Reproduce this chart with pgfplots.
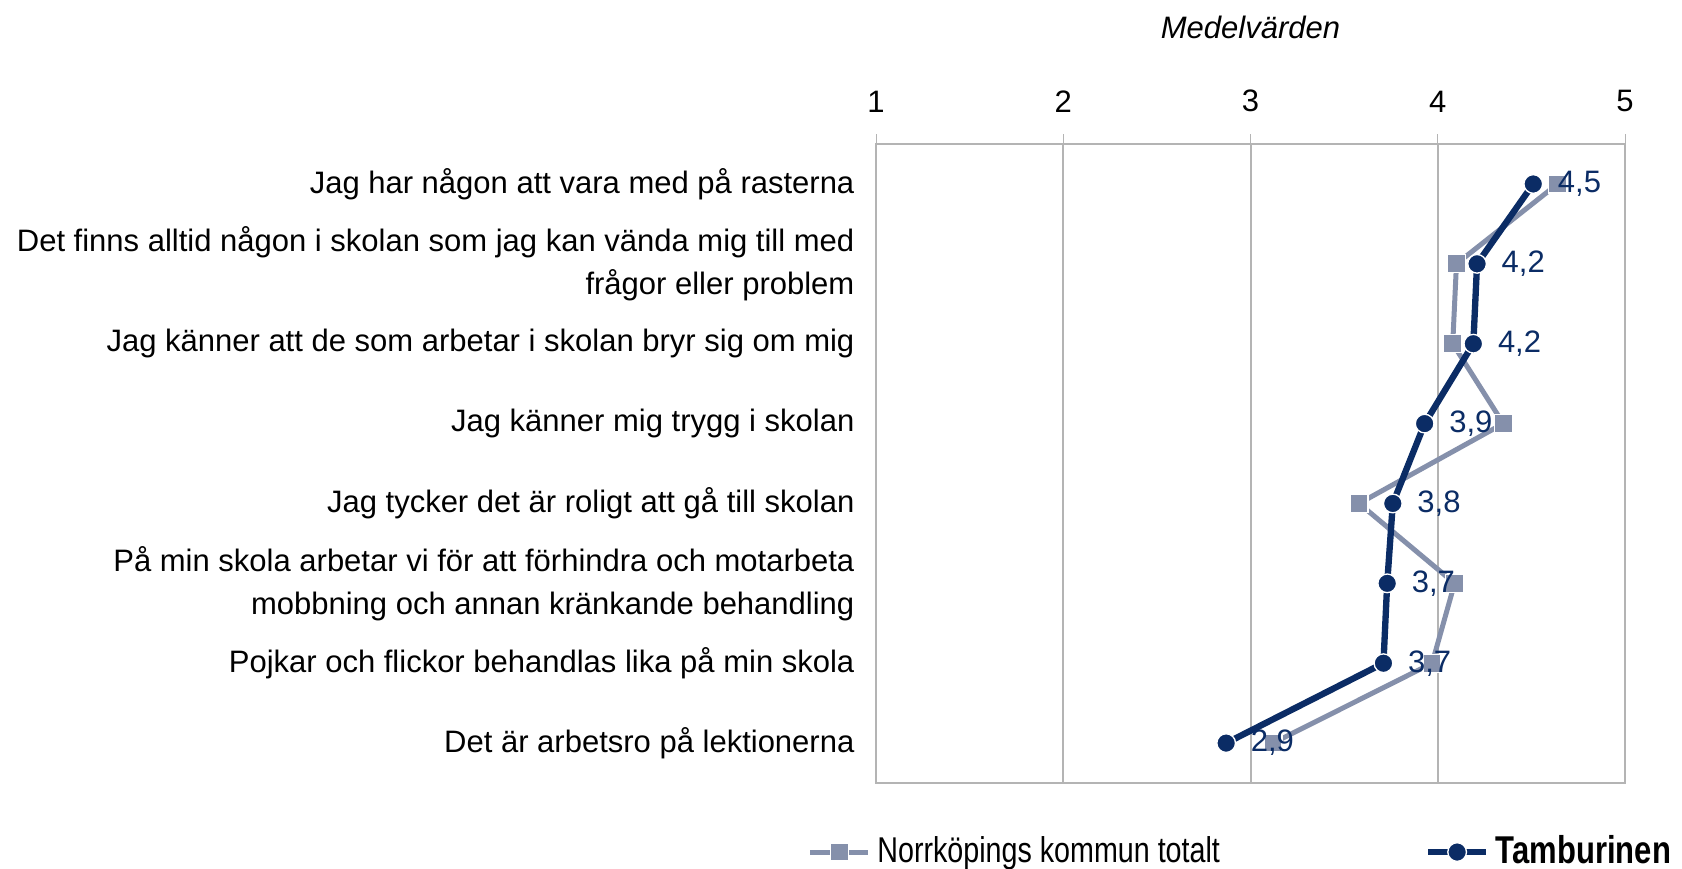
\documentclass[border=0pt]{standalone}
\usepackage{graphicx}
\usepackage{pgfplots}
\pgfplotsset{compat=1.18}
\usepackage{pgfplotstable}
\usepackage{fontspec}
\setmainfont{Liberation Sans}
\definecolor{navy}{HTML}{0B2C65}
\definecolor{grayblue}{HTML}{8590AB}
\definecolor{gridgray}{HTML}{B4B4B4}
\newcommand\cf{\fontsize{9.3}{12.9}\selectfont}
\newcommand\legtext[1]{\scalebox{1}[1.25]{#1}}

% medelvärden per påstående (rad 1 = överst)
\pgfplotstableread{
row norr tamb lbl
1 4.64 4.51 4,5
2 4.10 4.21 4,2
3 4.08 4.19 4,2
4 4.35 3.93 3,9
5 3.58 3.76 3,8
6 4.09 3.73 3,7
7 3.97 3.71 3,7
8 3.12 2.87 2,9
}\data

\begin{document}
\begin{tikzpicture}
\useasboundingbox (0,0) rectangle (504.6pt,260.4pt);
\begin{axis}[
    at={(262.8pt,25.5pt)}, anchor=south west,
    scale only axis, width=224.7pt, height=191.7pt,
    xmin=1, xmax=5, ymin=0.5, ymax=8.5, y dir=reverse,
    axis line style={gridgray},
    xtick={1,2,3,4,5},
    xtick pos=upper, xticklabel pos=upper,
    tick align=outside, major tick length=3pt,
    tick style={gridgray},
    xmajorgrids, grid style={gridgray, line width=0.6pt},
    /pgf/number format/assume math mode=true,
    xticklabel style={font=\cf, yshift=3pt},
    ytick={1,...,8},
    ytick style={draw=none},
    yticklabels={
      {Jag har någon att vara med på rasterna},
      {Det finns alltid någon i skolan som jag kan vända mig till med\\frågor eller problem},
      {Jag känner att de som arbetar i skolan bryr sig om mig},
      {Jag känner mig trygg i skolan},
      {Jag tycker det är roligt att gå till skolan},
      {På min skola arbetar vi för att förhindra och motarbeta\\mobbning och annan kränkande behandling},
      {Pojkar och flickor behandlas lika på min skola},
      {Det är arbetsro på lektionerna}},
    yticklabel style={font=\cf, align=right, anchor=east, inner sep=0pt, xshift=-3.3pt},
    title={Medelvärden},
    title style={font=\cf\itshape, at={(0.5,1)}, anchor=base, yshift=25.8pt},
    legend columns=2,
    legend style={font=\fontsize{8.6}{10}\selectfont, draw=none, fill=none, inner sep=0pt,
      at={(axis description cs:-0.092,-0.108)}, anchor=west,
      /tikz/every even column/.append style={column sep=59.5pt}},
    legend image code/.code={\draw[#1, mark repeat=2, mark phase=2]
      plot coordinates {(0pt,0pt) (8.7pt,0pt) (17.4pt,0pt)};},
  ]
  \addplot[color=grayblue, line width=1.5pt, mark=square*, mark size=2.7pt,
    mark options={fill=grayblue, draw=white, line width=0.4pt}]
    table[x=norr, y=row] {\data};
  \addlegendentry{\legtext{Norrköpings kommun totalt}}
  \addplot[color=navy, line width=1.9pt, mark=*, mark size=2.8pt,
    mark options={fill=navy, draw=white, line width=0.4pt},
    nodes near coords, point meta=explicit symbolic,
    nodes near coords align={horizontal},
    every node near coord/.append style={anchor=west, inner sep=0pt, xshift=7.2pt, font=\cf, text=navy}]
    table[x=tamb, y=row, meta=lbl] {\data};
  \addlegendentry{\legtext{\fontsize{9.3}{10}\selectfont\textbf{Tamburinen}}}
\end{axis}
\end{tikzpicture}
\end{document}
